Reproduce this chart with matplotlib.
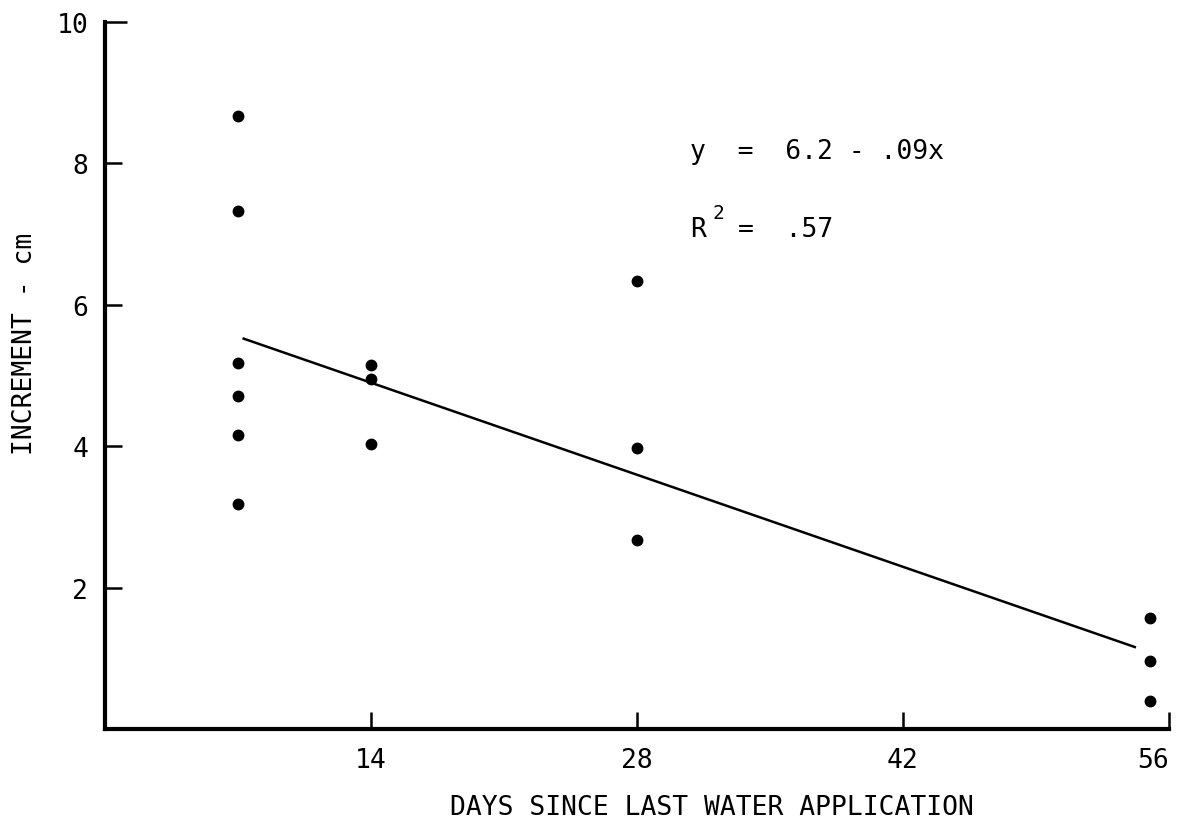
import matplotlib
matplotlib.use("Agg")
import matplotlib.pyplot as plt
import numpy as np

# Datos
days = [7, 7, 7, 7, 7, 7,
        14, 14, 14,
        28, 28, 28,
        55, 55, 55]
increment = [8.67, 7.32, 5.18, 4.71, 4.16, 3.18,
             5.15, 4.95, 4.03,
             6.33, 3.98, 2.68,
             1.57, 0.96, 0.39]

# Recta de regresion (tal como esta dibujada)
fit_intercept = 6.2
fit_slope = -0.093
fit_range = [7.3, 54.2]

x_ticks = [14, 28, 42, 56]
y_ticks = [2, 4, 6, 8, 10]

eq_text = "y  =  6.2 - .09x"
r2_value = "=  .57"

plt.rcParams['font.family'] = ['DejaVu Sans Mono', 'DejaVu Sans']
FS = 19

fig = plt.figure(figsize=(11.84, 8.28), dpi=100)
ax = fig.add_axes([105 / 1184, 1 - 730 / 828, (1169 - 105) / 1184, (730 - 23) / 828])

ax.plot(days, increment, 'o', color='black', markersize=7.5, clip_on=False)

xf = np.array(fit_range)
ax.plot(xf, fit_intercept + fit_slope * xf, color='black', linewidth=1.8)

ax.set_xlim(0, 56)
ax.set_ylim(0, 10)
ax.set_xticks(x_ticks)
ax.set_yticks(y_ticks)
ax.tick_params(axis='both', direction='in', length=12, width=1.8,
               labelsize=FS, colors='black')
ax.tick_params(axis='x', pad=13)
ax.tick_params(axis='y', pad=12)

# marca superior del eje y mas larga, etiqueta 56 alineada a la derecha
ax.yaxis.get_major_ticks()[-1].tick1line.set_markersize(16)
ax.get_xticklabels()[-1].set_ha('right')

for side in ['top', 'right']:
    ax.spines[side].set_visible(False)
for side in ['left', 'bottom']:
    ax.spines[side].set_linewidth(3)
    ax.spines[side].set_capstyle('projecting')

# Ecuacion y R^2
ax.text(30.8, 8.18, eq_text, fontsize=FS, va='center', ha='left')
ax.text(30.8, 7.07, "R", fontsize=FS, va='center', ha='left')
ax.text(31.95, 7.3, "2", fontsize=14, va='center', ha='left')
ax.text(33.3, 7.07, r2_value, fontsize=FS, va='center', ha='left')

ax.set_xlabel("DAYS SINCE LAST WATER APPLICATION", fontsize=FS)
ax.set_ylabel("INCREMENT - cm", fontsize=FS)
ax.xaxis.label.set_va('center')
ax.yaxis.label.set_va('center')
ax.xaxis.set_label_coords((712 - 105) / 1064, (730 - 808) / 707)
ax.yaxis.set_label_coords((25 - 105) / 1064, (730 - 344) / 707)

fig.savefig("out.png", dpi=100)
